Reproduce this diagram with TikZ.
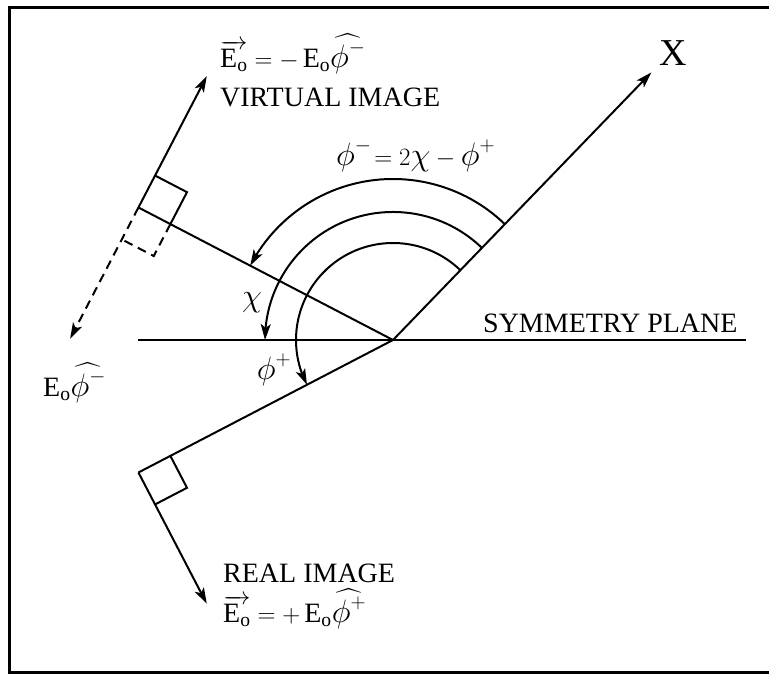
\documentclass[tikz,border=0pt]{standalone}
\usepackage{amsmath}
\usepackage{fontspec}
\setmainfont{Liberation Serif}
\usetikzlibrary{arrows.meta, calc, bending}

\newcommand{\phibig}{\mathord{\scalebox{1.3}{$\phi$}}}
\newcommand{\chibig}{\mathord{\scalebox{1.3}{$\chi$}}}

\begin{document}
\begin{tikzpicture}[
    x=1pt, y=1pt,
    ln/.style={line width=2pt},
    arrow/.style={ln, -{Stealth[length=16pt, width=10pt, inset=4pt]}},
    dasharrow/.style={arrow, dash pattern=on 9pt off 6pt},
    dashln/.style={ln, dash pattern=on 9pt off 6pt},
    lbl/.style={inner sep=0pt, font=\fontsize{28}{32}\selectfont}
]
\useasboundingbox (0,0) rectangle (769,676);

% Frame
\draw[line width=3pt] (769,668) -- (9,668) -- (9,3) -- (769,3);

% Symmetry plane and X axis
\coordinate (O) at (393,336);
\coordinate (planeL) at (138,336);
\coordinate (planeR) at (746,336);
\coordinate (xtip) at ($(O)+(46:372)$);
\draw[ln] (planeL) -- (planeR);
\draw[arrow] (O) -- (xtip);
\node[lbl, anchor=base west] (symlab) at (483,343) {SYMMETRY PLANE};
\node[lbl, font=\fontsize{38}{40}\selectfont] (xlab) at (673,623) {X};

% Real and virtual rays
\coordinate (real) at ($(O)+(207.5:287)$);
\coordinate (virt) at ($(O)+(152.5:287)$);
\draw[ln] (O) -- (real);
\draw[ln] (O) -- (virt);

% Right angle marks
\draw[ln] ($(real)+(27.5:36)$) -- ++(-62.5:36) -- ++(207.5:36);
\draw[ln] ($(virt)+(-27.5:36)$) -- ++(62.5:36) -- ++(152.5:36);
\draw[dashln] ($(virt)+(-27.5:36)$) -- ++(242.5:36) -- ++(152.5:36);

% Field vectors
\coordinate (realtip) at ($(real)+(-62.5:148)$);
\coordinate (virttip) at ($(virt)+(62.5:148)$);
\coordinate (dashtip) at ($(virt)+(242.5:148)$);
\draw[arrow] (real) -- (realtip);
\draw[arrow] (virt) -- (virttip);
\draw[dasharrow] (virt) -- (dashtip);

% Angles
\draw[arrow] ($(O)+(46:97)$) arc[start angle=46, end angle=207.5, radius=97];
\draw[arrow] ($(O)+(46:128)$) arc[start angle=46, end angle=180, radius=128];
\draw[arrow] ($(O)+(46:161)$) arc[start angle=46, end angle=152.5, radius=161];

% Labels
\node[lbl, anchor=base west] (vlab) at (220,608)
  {$\overrightarrow{\mathrm{E}_{\mathrm{o}}}= -\,\mathrm{E}_{\mathrm{o}}\widehat{\phibig^{-}}$};
\node[lbl, anchor=base west] (vtext) at (220,569) {VIRTUAL IMAGE};
\node[lbl, anchor=base west] (philab) at (336,510)
  {$\phibig^{-}\!= 2\chibig-\phibig^{+}$};
\node[lbl] (chilab) at (252,373) {$\chibig$};
\node[lbl] (phiplab) at (274,306) {$\phibig^{+}$};
\node[lbl, anchor=base west] (leftlab) at (43,279)
  {$\mathrm{E}_{\mathrm{o}}\widehat{\phibig^{-}}$};
\node[lbl, anchor=base west] (rtext) at (223,93) {REAL IMAGE};
\node[lbl, anchor=base west] (rlab) at (223,53)
  {$\overrightarrow{\mathrm{E}_{\mathrm{o}}}= +\,\mathrm{E}_{\mathrm{o}}\widehat{\phibig^{+}}$};

\end{tikzpicture}
\end{document}
